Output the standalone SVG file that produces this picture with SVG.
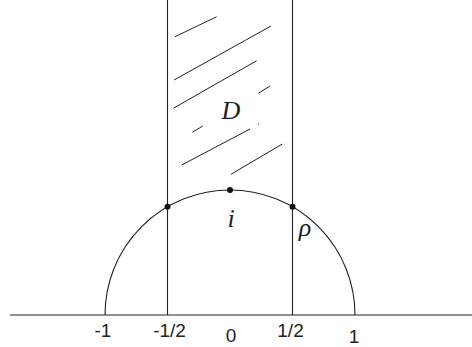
<svg xmlns="http://www.w3.org/2000/svg" width="472" height="347" viewBox="0 0 472 347">
<style>
.ln{stroke:#222;stroke-width:1.1;fill:none}
.hatch{stroke:#222;stroke-width:1;fill:none}
.dot{fill:#111}
.num{font-family:"Liberation Sans",Arial,sans-serif;font-size:19px;fill:#222;text-anchor:middle}
.math{font-family:"Liberation Serif","Times New Roman",serif;font-style:italic;font-size:26px;fill:#222;text-anchor:middle}
</style>
<rect width="472" height="347" fill="#fff"/>
<g id="connectors">
<line class="ln" x1="10" y1="315" x2="472" y2="315"/>
<line class="ln" x1="167.5" y1="0" x2="167.5" y2="315"/>
<line class="ln" x1="292.5" y1="0" x2="292.5" y2="315"/>
<path class="ln" d="M105,315 A125,125 0 0 1 355,315"/>
</g>
<g id="hatching">
<line class="hatch" x1="175" y1="36.7" x2="216.7" y2="16.7"/>
<line class="hatch" x1="174" y1="80" x2="271" y2="26"/>
<line class="hatch" x1="173.3" y1="108.3" x2="256.7" y2="60.7"/>
<line class="hatch" x1="258.3" y1="93.3" x2="270" y2="86"/>
<line class="hatch" x1="192.3" y1="132.3" x2="202.7" y2="126"/>
<line class="hatch" x1="257.8" y1="124.6" x2="258.8" y2="124"/>
<line class="hatch" x1="181.7" y1="165" x2="250" y2="129"/>
<line class="hatch" x1="231" y1="174.3" x2="282.3" y2="144"/>
</g>
<g id="points">
<circle class="dot" cx="167.5" cy="206.8" r="3"/>
<circle class="dot" cx="230" cy="190" r="3"/>
<circle class="dot" cx="292.5" cy="206.8" r="3"/>
</g>
<g id="labels">
<text class="math" x="231" y="119">D</text>
<text class="math" x="231" y="227">i</text>
<text class="math" x="305" y="236">ρ</text>
<text class="num" x="103" y="337">-1</text>
<text class="num" x="169.5" y="337">-1/2</text>
<text class="num" x="231" y="342">0</text>
<text class="num" x="290.5" y="337">1/2</text>
<text class="num" x="354" y="343">1</text>
</g>
</svg>
